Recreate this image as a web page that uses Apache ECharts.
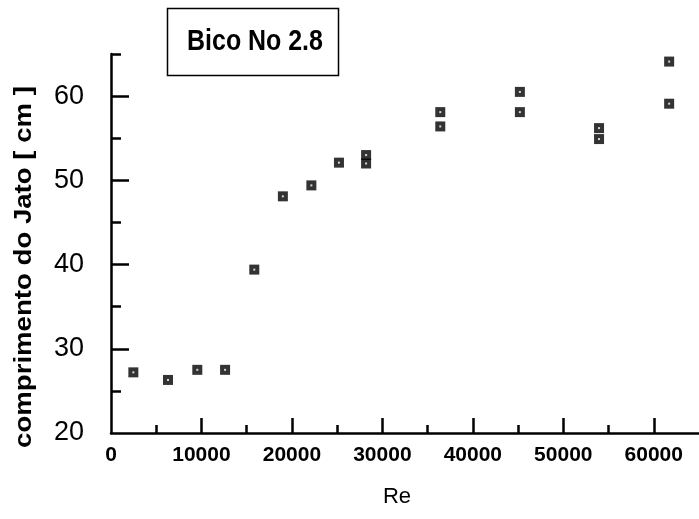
<!DOCTYPE html>
<html>
<head>
<meta charset="utf-8">
<script src="https://cdn.jsdelivr.net/npm/echarts@6/dist/echarts.min.js"></script>
<style>
  html, body { margin: 0; padding: 0; background: #fff; }
  #chart { width: 699px; height: 519px; }
</style>
</head>
<body>
<div id="chart"></div>
<script>
// Jet length vs Reynolds number, nozzle 2.8
const reynolds = [2470, 6300, 9540, 12610, 15840, 19000, 22150, 25200, 28200, 28200, 36400, 36400, 45200, 45200, 53950, 53950, 61700, 61700];
const jetLength = [27.2, 26.3, 27.5, 27.5, 39.4, 48.1, 49.4, 52.1, 53.0, 52.0, 58.1, 56.4, 60.5, 58.1, 56.2, 54.9, 64.1, 59.1];

const xMajorTicks = [10000, 20000, 30000, 40000, 50000, 60000];
const xMinorTicks = [5000, 15000, 25000, 35000, 45000, 55000];
const xLabels = [0, 10000, 20000, 30000, 40000, 50000, 60000];
const yMajorTicks = [30, 40, 50, 60];
const yMinorTicks = [25, 35, 45, 55, 65];
const yLabels = [20, 30, 40, 50, 60];

const titleText = 'Bico No 2.8';
const xName = 'Re';
const yName = 'comprimento do Jato [ cm ]';

const FONT = '"Liberation Sans", Arial, sans-serif';
const X_MIN = 0, X_MAX = 65000, Y_MIN = 20, Y_MAX = 65;

const points = reynolds.map((r, i) => [r, jetLength[i]]);

const chart = echarts.init(document.getElementById('chart'), null, { renderer: 'canvas' });

chart.setOption({
  backgroundColor: '#ffffff',
  animation: false,
  grid: { left: 111, right: -5, top: 54, bottom: 86, containLabel: false },
  graphic: [
    {
      type: 'rect',
      shape: { x: 167.5, y: 8.5, width: 171, height: 67 },
      style: { fill: '#fff', stroke: '#000', lineWidth: 1.5 },
      z: 10
    },
    {
      type: 'text',
      x: 255, y: 42, scaleX: 0.86,
      style: {
        text: titleText, fill: '#000',
        font: 'bold 29px ' + FONT,
        align: 'center', verticalAlign: 'middle'
      },
      z: 11
    },
    {
      type: 'text',
      x: 397, y: 497,
      style: {
        text: xName, fill: '#000',
        font: '22px ' + FONT,
        align: 'center', verticalAlign: 'middle'
      }
    },
    {
      type: 'text',
      x: 25, y: 267, rotation: Math.PI / 2, scaleX: 1.2,
      style: {
        text: yName, fill: '#000',
        font: 'bold 23px ' + FONT,
        align: 'center', verticalAlign: 'middle'
      }
    }
  ],
  xAxis: [
    {
      type: 'value', min: X_MIN, max: X_MAX, position: 'bottom',
      splitLine: { show: false },
      axisLine: { show: true, onZero: false, lineStyle: { color: '#000', width: 2.5 } },
      axisTick: { show: true, inside: true, length: 15, customValues: xMajorTicks, lineStyle: { color: '#000', width: 2.5 } },
      axisLabel: {
        show: true, customValues: xLabels, margin: 12,
        formatter: (v) => String(v),
        color: '#000', fontFamily: FONT, fontWeight: 'bold', fontSize: 21
      }
    },
    {
      type: 'value', min: X_MIN, max: X_MAX, position: 'bottom',
      splitLine: { show: false },
      axisLine: { show: false },
      axisTick: { show: true, inside: true, length: 8, customValues: xMinorTicks, lineStyle: { color: '#000', width: 2.5 } },
      axisLabel: { show: false }
    }
  ],
  yAxis: [
    {
      type: 'value', min: Y_MIN, max: Y_MAX, position: 'left',
      splitLine: { show: false },
      axisLine: { show: true, onZero: false, lineStyle: { color: '#000', width: 2.5 } },
      axisTick: { show: true, inside: true, length: 18, customValues: yMajorTicks, lineStyle: { color: '#000', width: 2.5 } },
      axisLabel: {
        show: true, customValues: yLabels, margin: 27,
        formatter: (v) => String(v),
        color: '#000', fontFamily: FONT, fontSize: 27
      }
    },
    {
      type: 'value', min: Y_MIN, max: Y_MAX, position: 'left',
      splitLine: { show: false },
      axisLine: { show: false },
      axisTick: { show: true, inside: true, length: 10, customValues: yMinorTicks, lineStyle: { color: '#000', width: 2.5 } },
      axisLabel: { show: false }
    }
  ],
  series: [
    {
      type: 'scatter',
      xAxisIndex: 0, yAxisIndex: 0,
      symbol: 'rect', symbolSize: 10,
      itemStyle: { color: '#000' },
      data: points,
      z: 3
    },
    {
      type: 'scatter',
      xAxisIndex: 0, yAxisIndex: 0,
      symbol: 'rect', symbolSize: 2,
      itemStyle: { color: '#fff' },
      data: points,
      silent: true,
      z: 4
    }
  ]
});
</script>
</body>
</html>
